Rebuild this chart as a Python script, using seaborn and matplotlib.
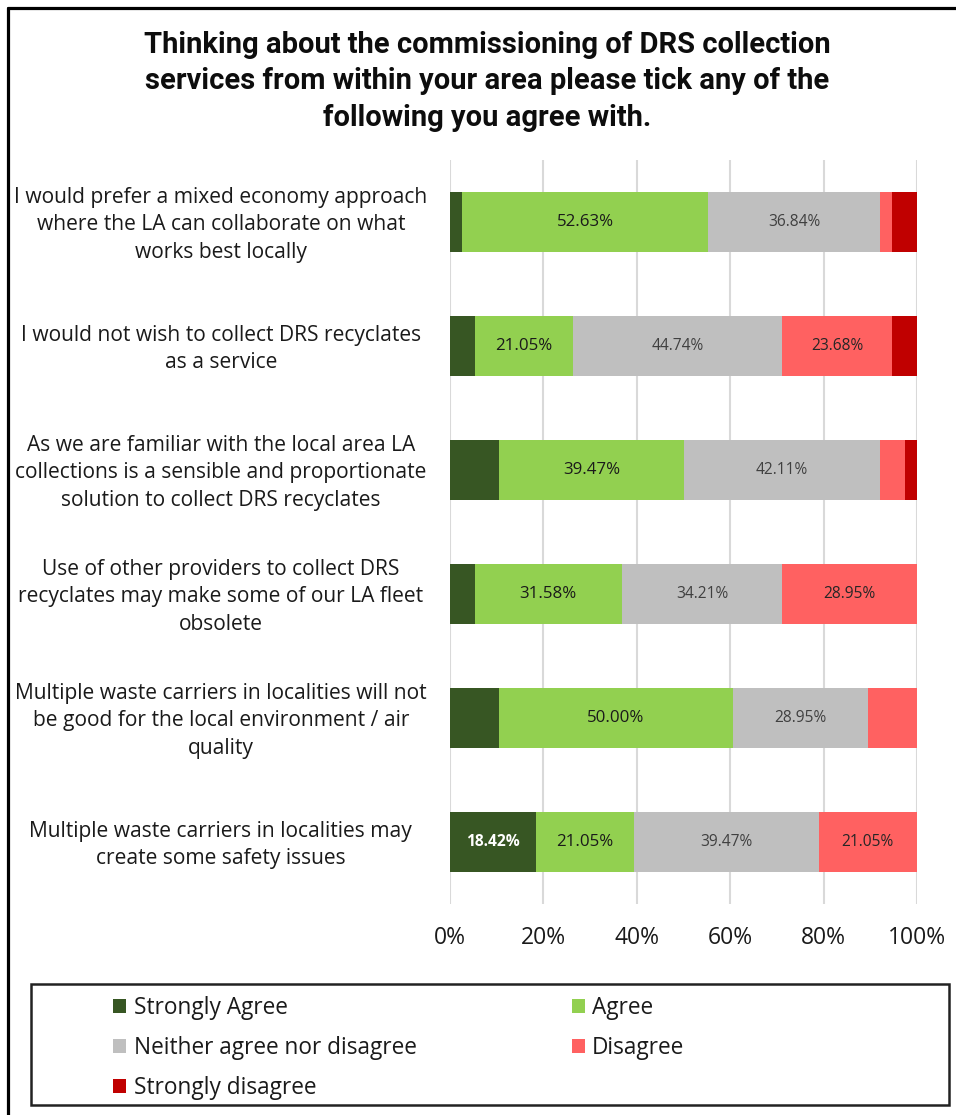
import matplotlib
matplotlib.use("Agg")
import matplotlib.pyplot as plt
from matplotlib.patches import Patch, Rectangle
from matplotlib.lines import Line2D
from matplotlib.transforms import ScaledTranslation
import numpy as np
import pandas as pd
import seaborn as sns

# ---- data ---------------------------------------------------------------
statements = [
    "I would prefer a mixed economy approach\nwhere the LA can collaborate on what\nworks best locally",
    "I would not wish to collect DRS recyclates\nas a service",
    "As we are familiar with the local area LA\ncollections is a sensible and proportionate\nsolution to collect DRS recyclates",
    "Use of other providers to collect DRS\nrecyclates may make some of our LA fleet\nobsolete",
    "Multiple waste carriers in localities will not\nbe good for the local environment / air\nquality",
    "Multiple waste carriers in localities may\ncreate some safety issues",
]
responses = ["Strongly Agree", "Agree", "Neither agree nor disagree",
             "Disagree", "Strongly disagree"]

strongly_agree = [2.63, 5.26, 10.53, 5.26, 10.53, 18.42]
agree = [52.63, 21.05, 39.47, 31.58, 50.00, 21.05]
neither = [36.84, 44.74, 42.11, 34.21, 28.95, 39.47]
disagree = [2.63, 23.68, 5.26, 28.95, 10.53, 21.05]
strongly_disagree = [5.26, 5.26, 2.63, 0.00, 0.00, 0.00]

x_ticks = [0, 20, 40, 60, 80, 100]
x_tick_labels = ["0%", "20%", "40%", "60%", "80%", "100%"]

title = ("Thinking about the commissioning of DRS collection\n"
         "services from within your area please tick any of the\n"
         "following you agree with.")

colors = ["#375623", "#92D050", "#BFBFBF", "#FF6161", "#C00000"]
label_colors = ["white", "#1a1a1a", "#404040", "#262626", "white"]
label_sizes = [11.2, 12.2, 11.2, 11.2, 11.2]
label_weights = ["bold", "normal", "normal", "normal", "normal"]

# ---- tidy table ----------------------------------------------------------
values = np.array([strongly_agree, agree, neither, disagree, strongly_disagree])
df = pd.DataFrame(values.T, columns=responses)
df.insert(0, "statement", statements)
cum = df[responses].cumsum(axis=1)
starts = cum - df[responses].values

# ---- figure --------------------------------------------------------------
sns.set_theme(style="white")
plt.rcParams["font.family"] = ["Open Sans", "DejaVu Sans"]

W, H = 956, 1115
fig = plt.figure(figsize=(W / 100, H / 100), dpi=100)
ax = fig.add_axes([450 / W, (H - 904) / H, 467 / W, 744 / H])

# stacked bars: draw cumulative totals from the longest down so each
# segment shows through in front of the next one
for resp, col in reversed(list(zip(responses, colors))):
    sns.barplot(data=cum.assign(statement=statements), x=resp, y="statement",
                order=statements, orient="h", color=col, width=0.49,
                saturation=1, linewidth=0, ax=ax, zorder=3)

# segment labels
for i in range(len(statements)):
    for j, resp in enumerate(responses):
        v = df.loc[i, resp]
        if v >= 15:
            ax.text(starts.loc[i, resp] + v / 2, i, f"{v:.2f}%",
                    ha="center", va="center", color=label_colors[j],
                    fontsize=label_sizes[j], fontweight=label_weights[j],
                    zorder=5)

ax.set_xlim(0, 100)
ax.set_ylim(len(statements) - 0.5, -0.5)
ax.set_xticks(x_ticks)
ax.set_xticklabels(x_tick_labels, fontsize=16.5, color="#1a1a1a")
ax.set_xlabel("")
ax.set_ylabel("")
ax.set_yticks(range(len(statements)))
ax.set_yticklabels(statements, ha="center", fontsize=15.1, color="#1a1a1a",
                   linespacing=1.40)
ax.tick_params(axis="y", length=0, pad=165)
ax.tick_params(axis="x", length=0, pad=16)
lift = ScaledTranslation(0, 3 / 100, fig.dpi_scale_trans)
for lab in ax.get_yticklabels():
    lab.set_transform(lab.get_transform() + lift)
ax.xaxis.grid(True, color="#D9D9D9", linewidth=1.5, zorder=0)
ax.set_axisbelow(True)
for s in ax.spines.values():
    s.set_visible(False)

# title
fig.text(487 / W, 1 - 31 / H, title, ha="center", va="top",
         fontsize=21, fontweight="bold", linespacing=1.38,
         family=["Roboto", "DejaVu Sans"], color="#0d0d0d")

# outer frame (left and top edges)
fig.add_artist(Line2D([8 / W, 8 / W], [0, 1 - 8 / H], transform=fig.transFigure,
                      color="black", linewidth=2.3))
fig.add_artist(Line2D([8 / W, 1], [1 - 8 / H, 1 - 8 / H], transform=fig.transFigure,
                      color="black", linewidth=2.3))

# legend box
fig.add_artist(Rectangle((31 / W, (H - 1105) / H), (949 - 31) / W, (1105 - 984) / H,
                         transform=fig.transFigure, facecolor="white",
                         edgecolor="#222222", linewidth=1.8, zorder=0))

handles = [Patch(facecolor=c, edgecolor="none", label=r) for r, c in zip(responses, colors)]
order = [0, 2, 4, 1, 3]
fig.legend([handles[k] for k in order], [responses[k] for k in order],
           loc="upper left", bbox_to_anchor=(113 / W, 1 - 996 / H),
           ncol=2, frameon=False, fontsize=16.3, handlelength=0.58,
           handleheight=0.58, handletextpad=0.33, labelspacing=0.7,
           columnspacing=6.85, borderpad=0, borderaxespad=0,
           labelcolor="#1a1a1a")

fig.savefig("out.png", dpi=100, facecolor="white")
